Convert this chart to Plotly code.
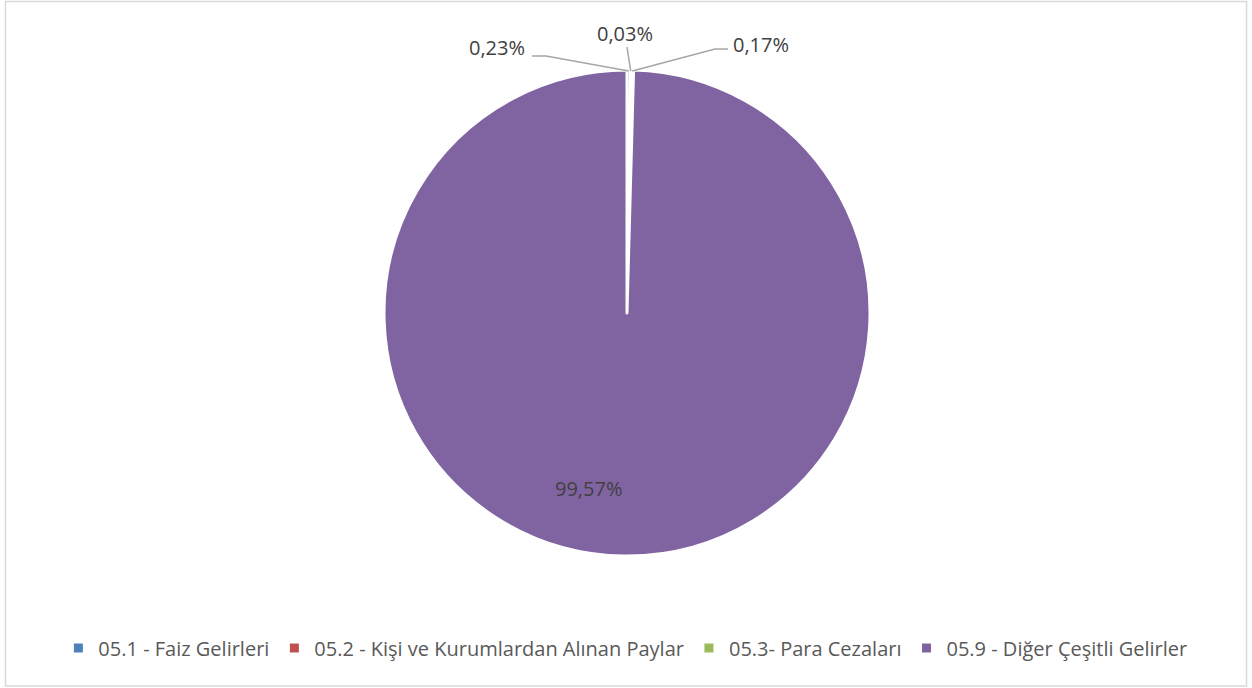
import math
import plotly.graph_objects as go

categories = ["05.1 - Faiz Gelirleri", "05.2 - Kişi ve Kurumlardan Alınan Paylar",
              "05.3- Para Cezaları", "05.9 - Diğer Çeşitli Gelirler"]
values = [0.23, 0.03, 0.17, 99.57]
labels = ["0,23%", "0,03%", "0,17%", "99,57%"]
colors = ["#4F81BD", "#C0504D", "#9BBB59", "#8064A2"]

W, H = 1252, 688
cx, cy, r = 627, 313, 243

fig = go.Figure(go.Pie(
    labels=categories, values=values, sort=False, direction="clockwise", rotation=0,
    marker=dict(colors=colors, line=dict(color="white", width=3)),
    textinfo="none", hoverinfo="label+percent",
    domain=dict(x=[(cx - r) / W, (cx + r) / W], y=[1 - (cy + r) / H, 1 - (cy - r) / H]),
))

# label anchors (pixels) and leader-line elbow points
label_pos = [(497, 47), (625, 34), (761, 44), (588, 488)]
elbows = [[(532, 56), (546, 56)], [(627, 47)], [(728, 49), (715, 49)], None]

total = sum(values)
cum = 0
shapes = []
annotations = []


def px(x, y):
    return x / W, 1 - y / H


for i, v in enumerate(values):
    theta = 2 * math.pi * (cum + v / 2) / total
    cum += v
    ex = cx + (r - 1) * math.sin(theta)
    ey = cy - (r - 1) * math.cos(theta)
    lx, ly = label_pos[i]
    ax, ay = px(lx, ly)
    annotations.append(dict(x=ax, y=ay, xref="paper", yref="paper",
                            xanchor="center", yanchor="middle",
                            text=labels[i], showarrow=False,
                            font=dict(family="Open Sans", size=20, color="#404040")))
    if elbows[i] is not None:
        pts = elbows[i] + [(ex, ey)]
        path = ""
        for j, (x, y) in enumerate(pts):
            pxx, pyy = px(x, y)
            path += ("M" if j == 0 else "L") + f"{pxx:.5f},{pyy:.5f} "
        shapes.append(dict(type="path", xref="paper", yref="paper", path=path.strip(),
                           line=dict(color="#A6A6A6", width=1.5)))

x0, y0 = px(5.5, 686)
x1, y1 = px(1246.5, 1.5)
shapes.append(dict(type="rect", xref="paper", yref="paper",
                   x0=x0, y0=y0, x1=x1, y1=y1,
                   line=dict(color="#D9D9D9", width=1.5)))

fig.update_layout(
    width=W, height=H, margin=dict(l=0, r=0, t=0, b=0),
    paper_bgcolor="white", plot_bgcolor="white",
    shapes=shapes, annotations=annotations,
    showlegend=True,
    legend=dict(orientation="h", x=0.4995, xanchor="center", y=1 - 648 / H, yanchor="middle",
                font=dict(family="Open Sans", size=20, color="#595959"),
                itemwidth=30, traceorder="normal"),
)

fig.write_html("out.html", config={"displayModeBar": False},
               post_script="document.body.style.margin='0px';")
